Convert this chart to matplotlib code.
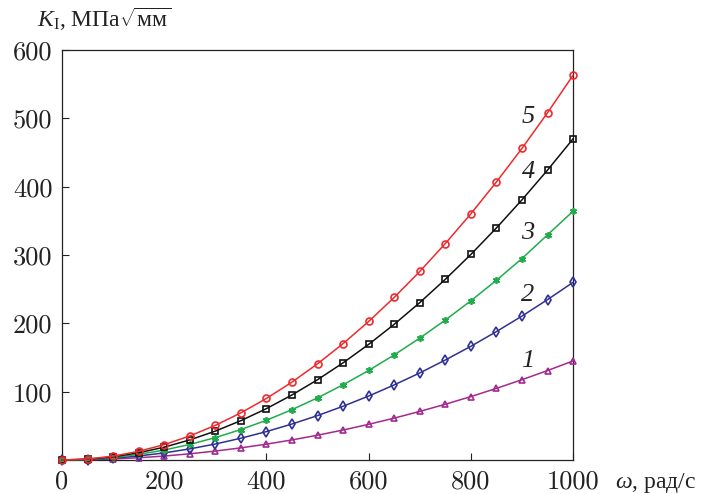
import matplotlib
matplotlib.use("Agg")
import matplotlib.pyplot as plt
import numpy as np

plt.rcParams['mathtext.fontset'] = 'custom'
plt.rcParams['mathtext.rm'] = 'Liberation Serif'
plt.rcParams['mathtext.it'] = 'Liberation Serif:italic'
plt.rcParams['mathtext.bf'] = 'Liberation Serif:bold'

# angular velocity, rad/s
omega = [0, 50, 100, 150, 200, 250, 300, 350, 400, 450, 500,
         550, 600, 650, 700, 750, 800, 850, 900, 950, 1000]

# stress intensity factor K_I for curves 1..5
k1 = [0, 0.4, 1.5, 3.3, 5.8, 9.1, 13.1, 17.8, 23.2, 29.4, 36.3,
      43.9, 52.2, 61.3, 71.1, 81.6, 92.8, 104.8, 117.5, 130.9, 145]
k2 = [0, 0.7, 2.6, 5.9, 10.4, 16.3, 23.4, 31.9, 41.6, 52.7, 65.0,
      78.7, 93.6, 109.9, 127.4, 146.3, 166.4, 187.9, 210.6, 234.7, 260]
k3 = [0, 0.9, 3.6, 8.2, 14.6, 22.8, 32.8, 44.6, 58.2, 73.7, 91.0,
      110.1, 131.0, 153.8, 178.4, 204.8, 233.0, 263.0, 294.8, 329.5, 364]
k4 = [0, 1.2, 4.7, 10.6, 18.8, 29.4, 42.3, 57.6, 75.2, 95.2, 117.5,
      142.2, 169.2, 198.6, 230.3, 264.4, 300.8, 339.6, 380.7, 424.2, 470]
k5 = [0, 1.4, 5.6, 12.7, 22.5, 35.2, 50.7, 69.0, 90.1, 114.0, 140.8,
      170.3, 202.7, 237.9, 275.9, 316.7, 360.3, 406.8, 456.0, 508.1, 563]

curve_labels = ['1', '2', '3', '4', '5']
label_x = [912, 912, 912, 912, 912]
label_y = [145, 241, 332, 421, 502]

series = [k1, k2, k3, k4, k5]
colors = ['#a3298f', '#2f3192', '#1fac4b', '#111111', '#ee2a2e']
markers = ['^', 'd', (6, 2, 0), 's', 'o']

fig = plt.figure(figsize=(7.08, 4.94), dpi=100)
ax = fig.add_axes([0.0876, 0.0688, 0.7218, 0.830])

for ys, c, m in zip(series, colors, markers):
    ax.plot(omega, ys, color=c, lw=1.1, marker=m, ms=5, mfc='none',
            mec=c, mew=1.2, clip_on=False, zorder=3)

for t, x, y in zip(curve_labels, label_x, label_y):
    ax.text(x, y, t, fontsize=19, family='Liberation Serif', style='italic',
            ha='center', va='center', color='#222222')

ax.set_xlim(0, 1000)
ax.set_ylim(0, 600)
ax.set_xticks([0, 200, 400, 600, 800, 1000])
ax.set_yticks([100, 200, 300, 400, 500, 600])
ax.tick_params(direction='in', length=5, width=0.8, pad=7, labelsize=19,
               top=False, right=False, colors='#222222')
for lab in ax.get_xticklabels() + ax.get_yticklabels():
    lab.set_family('cmr10')
for s in ax.spines.values():
    s.set_linewidth(0.9)
    s.set_color('#222222')

fig.text(0.052, 0.945, r"$K_{\mathrm{I}}$, МПа$\sqrt{\mathrm{мм}}$",
         fontsize=17, family='Liberation Serif', va='baseline', ha='left',
         color='#222222')
fig.text(0.868, 0.0121, r"$\omega$, рад/с", fontsize=17,
         family='Liberation Serif', va='baseline', ha='left', color='#222222')

fig.savefig('out.png', dpi=100)
